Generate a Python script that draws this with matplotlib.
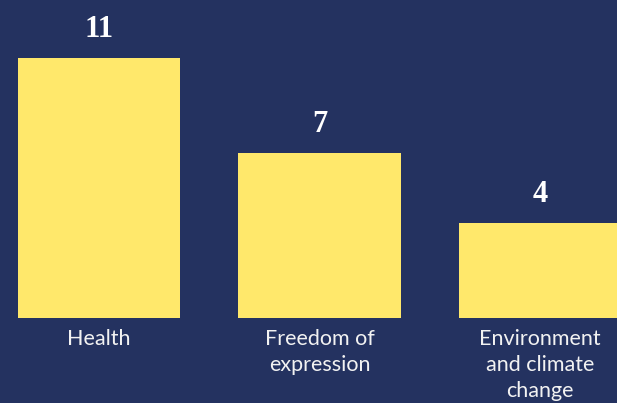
import matplotlib.pyplot as plt

categories = ['Health', 'Freedom of\nexpression', 'Environment\nand climate\nchange']
values = [11, 7, 4]

bg = '#243260'
bar_color = '#FFE86B'

fig = plt.figure(figsize=(6.17, 4.03), dpi=100)
fig.patch.set_facecolor(bg)
ax = fig.add_axes([0, 0, 1, 1])
ax.set_facecolor(bg)

x = list(range(len(values)))
ax.bar(x, values, width=0.735, color=bar_color)

for xi, v in zip(x, values):
    ax.annotate(str(v), (xi, v), xytext=(0, 14), textcoords='offset pixels',
                ha='center', va='bottom', color='white', fontsize=22,
                fontweight='bold', family='Liberation Serif')

for xi, lab in zip(x, categories):
    ax.annotate(lab, (xi, 0), xytext=(0, -11), textcoords='offset pixels',
                ha='center', va='top', color='#F2F2F2', fontsize=15.5,
                family='Lato', linespacing=1.36)

ax.set_xlim(-0.449, 2.349)
ax.set_ylim(-3.596, 13.454)
ax.axis('off')

fig.savefig('out.png', dpi=100, facecolor=bg)
